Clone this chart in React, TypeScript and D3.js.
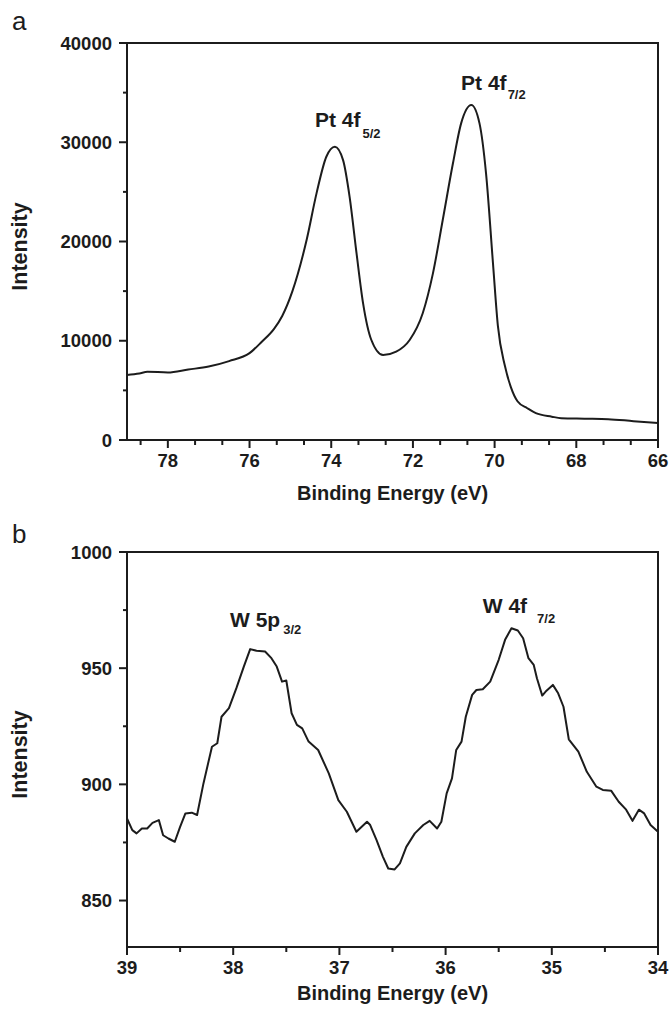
import React from "react";
import * as d3 from "d3";

// Panel a: Pt 4f region
const A_ENERGY = [79.0, 78.7, 78.5, 78.0, 77.5, 77.0, 76.5, 76.0, 75.7, 75.4, 75.2, 74.95, 74.6, 74.36, 74.12, 73.91, 73.71, 73.55, 73.38, 73.22, 73.02, 72.73, 72.41, 72.08, 71.76, 71.51, 71.27, 71.02, 70.82, 70.57, 70.37, 70.21, 70.04, 69.92, 69.75, 69.6, 69.44, 69.2, 68.99, 68.6, 68.37, 67.8, 67.22, 66.6, 66.0];
const A_INTENSITY = [6550, 6700, 6880, 6800, 7100, 7400, 7950, 8750, 9900, 11200, 12500, 15000, 20200, 24850, 28540, 29550, 28200, 24500, 18800, 13770, 10100, 8560, 8900, 10075, 12770, 16790, 22170, 27880, 31900, 33750, 31900, 26870, 17800, 11500, 7500, 5300, 3900, 3200, 2700, 2350, 2200, 2150, 2100, 1900, 1720];

// Panel b: W region
const B_ENERGY = [39.0, 38.95, 38.91, 38.86, 38.81, 38.76, 38.70, 38.66, 38.61, 38.55, 38.50, 38.45, 38.39, 38.34, 38.28, 38.20, 38.15, 38.11, 38.04, 37.97, 37.90, 37.84, 37.78, 37.70, 37.64, 37.59, 37.54, 37.50, 37.45, 37.40, 37.35, 37.29, 37.20, 37.10, 37.01, 36.93, 36.84, 36.74, 36.71, 36.65, 36.59, 36.54, 36.48, 36.43, 36.37, 36.29, 36.21, 36.15, 36.08, 36.04, 35.99, 35.94, 35.90, 35.85, 35.81, 35.75, 35.71, 35.65, 35.58, 35.50, 35.44, 35.38, 35.32, 35.27, 35.22, 35.17, 35.14, 35.09, 35.05, 34.99, 34.94, 34.89, 34.84, 34.75, 34.67, 34.58, 34.52, 34.44, 34.37, 34.30, 34.24, 34.18, 34.13, 34.07, 34.0];
const B_INTENSITY = [885.3, 880.3, 878.9, 881, 881, 883.4, 884.6, 878.1, 876.7, 875.3, 881.7, 887.5, 887.8, 886.8, 900.4, 916.2, 917.7, 929.1, 932.8, 941.4, 950.7, 958.2, 957.5, 957.2, 954.3, 950.7, 944.2, 944.7, 930.6, 925.6, 924.1, 918.4, 914.8, 904.7, 893.2, 888.2, 879.6, 883.9, 882.5, 876, 868.8, 863.8, 863.4, 866, 873.1, 878.9, 882.5, 884.3, 881, 883.9, 896.1, 902.6, 914.8, 918.4, 929.1, 938.5, 940.6, 940.9, 944.2, 953.6, 962.2, 967.2, 966.2, 962.9, 954.3, 951.4, 945.7, 938.2, 940.3, 942.8, 939.2, 933.4, 919.4, 914.1, 905.4, 899, 897.6, 897.2, 892.5, 889.1, 884.3, 889.1, 887.5, 882.5, 879.6];

const A_X_TICKS = [78, 76, 74, 72, 70, 68, 66];
const A_Y_TICKS = [0, 10000, 20000, 30000, 40000];
const B_X_TICKS = [39, 38, 37, 36, 35, 34];
const B_Y_TICKS = [850, 900, 950, 1000];

const A_LABELS = [
  { main: "Pt 4f", sub: "5/2", e: 74.40, v: 31565, subDx: 2, subDy: 11 },
  { main: "Pt 4f", sub: "7/2", e: 70.82, v: 35260, subDx: 1, subDy: 8.5 },
];
const B_LABELS = [
  { main: "W 5p", sub: "3/2", e: 38.03, v: 967.9, subDx: 3, subDy: 7 },
  { main: "W 4f", sub: "7/2", e: 35.65, v: 973.7, subDx: 10, subDy: 9.5 },
];

const INK = "#1c1c1c";
const FONT = "'Liberation Sans', Arial, Helvetica, sans-serif";

type PanelProps = {
  energy: number[];
  intensity: number[];
  xDomain: [number, number];
  yDomain: [number, number];
  xTicks: number[];
  xMinor: number[];
  yTicks: number[];
  yMinor: number[];
  top: number;
  bottom: number;
  letter: string;
  letterY: number;
  titleY: number;
  labels: { main: string; sub: string; e: number; v: number; subDx: number; subDy: number }[];
  curve: any;
};

const LEFT = 127;
const RIGHT = 658;

function Panel(p: PanelProps) {
  const x = d3.scaleLinear().domain(p.xDomain).range([LEFT, RIGHT]);
  const y = d3.scaleLinear().domain(p.yDomain).range([p.bottom, p.top]);
  const pts = p.energy.map((e, i) => [e, p.intensity[i]] as [number, number]);
  const line = d3
    .line<[number, number]>()
    .x((d) => x(d[0]))
    .y((d) => y(d[1]))
    .curve(p.curve);
  const midY = (p.top + p.bottom) / 2;
  return (
    <g>
      <text x={12} y={p.letterY} fontFamily={FONT} fontSize={26} fill={INK}>
        {p.letter}
      </text>
      <path d={line(pts) || ""} fill="none" stroke={INK} strokeWidth={2} strokeLinejoin="round" />
      <rect x={LEFT} y={p.top} width={RIGHT - LEFT} height={p.bottom - p.top} fill="none" stroke={INK} strokeWidth={2} />
      {p.xTicks.map((t) => (
        <g key={"xt" + t}>
          <line x1={x(t)} x2={x(t)} y1={p.bottom} y2={p.bottom + 8} stroke={INK} strokeWidth={2} />
          <text x={x(t)} y={p.bottom + 27} textAnchor="middle" fontFamily={FONT} fontWeight="bold" fontSize={18.5} fill={INK}>
            {t}
          </text>
        </g>
      ))}
      {p.xMinor.map((t) => (
        <line key={"xm" + t} x1={x(t)} x2={x(t)} y1={p.bottom} y2={p.bottom + 5} stroke={INK} strokeWidth={2} />
      ))}
      {p.yTicks.map((t) => (
        <g key={"yt" + t}>
          <line x1={LEFT - 8} x2={LEFT} y1={y(t)} y2={y(t)} stroke={INK} strokeWidth={2} />
          <text x={LEFT - 15} y={y(t)} dy="0.36em" textAnchor="end" fontFamily={FONT} fontWeight="bold" fontSize={18.5} fill={INK}>
            {t}
          </text>
        </g>
      ))}
      {p.yMinor.map((t) => (
        <line key={"ym" + t} x1={LEFT - 4} x2={LEFT} y1={y(t)} y2={y(t)} stroke={INK} strokeWidth={2} />
      ))}
      <text x={(LEFT + RIGHT) / 2} y={p.titleY} textAnchor="middle" fontFamily={FONT} fontWeight="bold" fontSize={20} fill={INK}>
        Binding Energy (eV)
      </text>
      <text
        transform={`translate(27,${midY + 5}) rotate(-90)`}
        textAnchor="middle"
        fontFamily={FONT}
        fontWeight="bold"
        fontSize={21.5}
        fill={INK}
      >
        Intensity
      </text>
      {p.labels.map((l, i) => (
        <text key={"lab" + i} x={x(l.e)} y={y(l.v)} fontFamily={FONT} fontWeight="bold" fontSize={21} fill={INK}>
          {l.main}
          <tspan dx={l.subDx} dy={l.subDy} fontSize={13}>
            {l.sub}
          </tspan>
        </text>
      ))}
    </g>
  );
}

export default function App() {
  const aMinorX = d3.range(0, 20).filter((k) => k % 3 !== 0).map((k) => 66 + (k * 2) / 3);
  const aMinorY = [5000, 15000, 25000, 35000];
  const bMinorX = [38.5, 37.5, 36.5, 35.5, 34.5];
  const bMinorY = [875, 925, 975];
  return (
    <svg
      width={672}
      height={1011}
      viewBox="0 0 672 1011"
      style={{ position: "absolute", left: 0, top: 0, background: "#fff" }}
    >
      <rect x={0} y={0} width={672} height={1011} fill="#fff" />
      <Panel
        energy={A_ENERGY}
        intensity={A_INTENSITY}
        xDomain={[79, 66]}
        yDomain={[0, 40000]}
        xTicks={A_X_TICKS}
        xMinor={aMinorX}
        yTicks={A_Y_TICKS}
        yMinor={aMinorY}
        top={43}
        bottom={440}
        letter="a"
        letterY={30}
        titleY={500}
        labels={A_LABELS}
        curve={d3.curveMonotoneX}
      />
      <Panel
        energy={B_ENERGY}
        intensity={B_INTENSITY}
        xDomain={[39, 34]}
        yDomain={[830, 1000]}
        xTicks={B_X_TICKS}
        xMinor={bMinorX}
        yTicks={B_Y_TICKS}
        yMinor={bMinorY}
        top={552}
        bottom={947}
        letter="b"
        letterY={543}
        titleY={1000}
        labels={B_LABELS}
        curve={d3.curveLinear}
      />
    </svg>
  );
}
